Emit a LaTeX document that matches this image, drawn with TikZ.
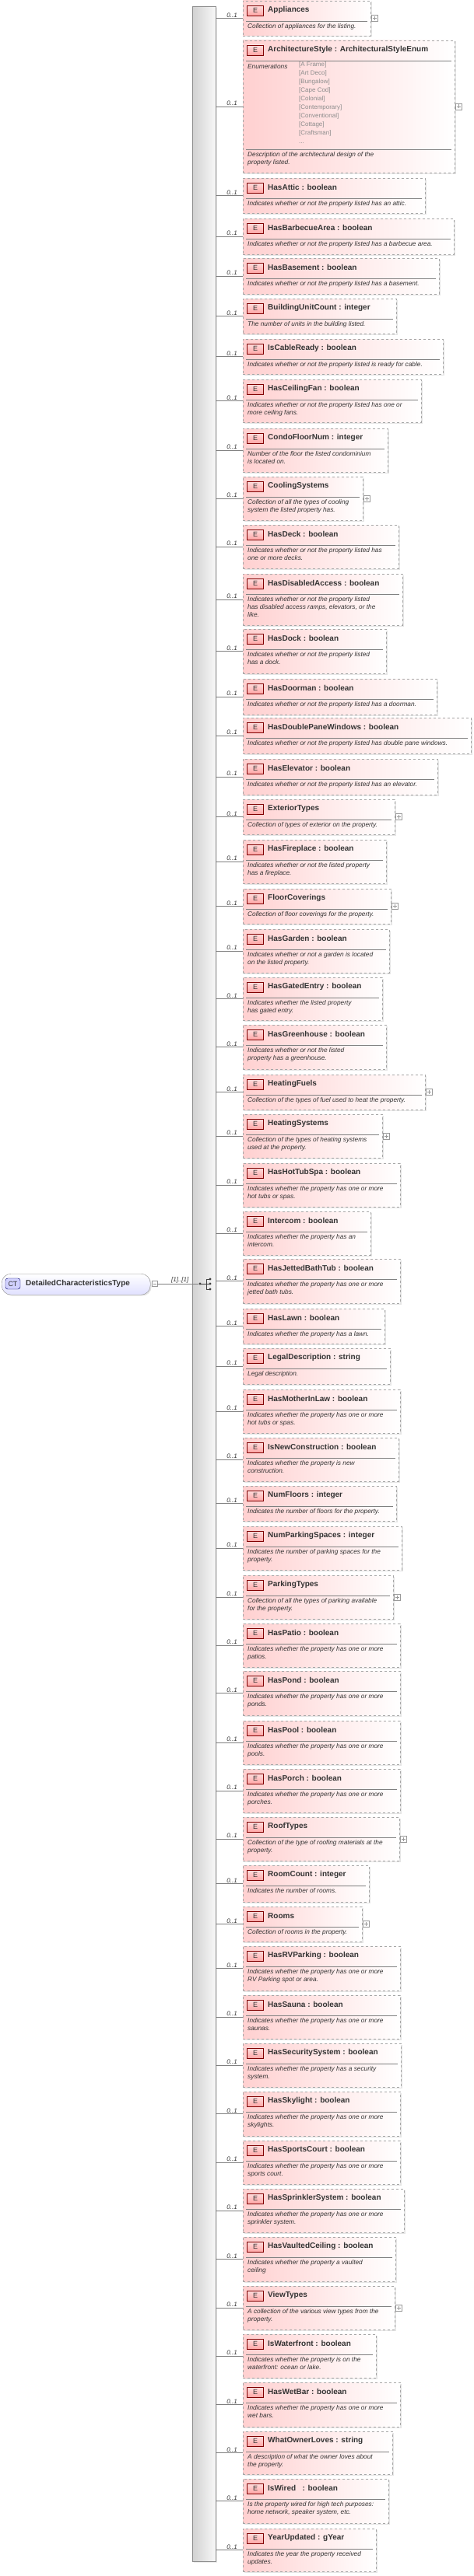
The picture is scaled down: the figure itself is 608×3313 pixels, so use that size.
\documentclass[tikz,border=0pt]{standalone}
\usepackage{fontspec}
\setmainfont{Liberation Sans}
\usetikzlibrary{shadows,calc}
\definecolor{epink}{RGB}{255,208,208}
\definecolor{txt}{RGB}{51,51,51}
\tikzset{
 ebox/.style={draw=black!35, dashed, line width=0.8pt, left color=epink, right color=white, anchor=north west, inner sep=0pt, outer sep=0pt,
   drop shadow={shadow xshift=1.5pt, shadow yshift=-1.5pt, fill=black!20}},
 badge/.style={draw=red!50!black, line width=0.5pt, top color=epink!70, bottom color=red!35, minimum width=21pt, minimum height=13pt, inner sep=0pt, font=\fontsize{9}{9}\selectfont, text=txt},
 etitle/.style={anchor=west, inner sep=0pt, font=\fontsize{10}{12}\selectfont\bfseries, text=txt},
 edesc/.style={anchor=north west, inner sep=0pt, align=left, font=\fontsize{8.3}{10}\selectfont\itshape, text=txt},
 sep/.style={draw=black!50, line width=0.6pt},
 conn/.style={draw=black!50, line width=0.6pt},
 mult/.style={pos=0.6, above=0pt, inner sep=1pt, font=\fontsize{8}{8}\selectfont\itshape, text=txt},
 plusbox/.style={draw=black!40, fill=white, minimum size=8pt, inner sep=0pt, line width=0.5pt},
}
\newcommand\elem[6]{%
 \node[ebox, minimum width={(#4-312)*1pt}, minimum height={(#3-#2)*1pt}] (#1) at (312,-#2) {};
 \draw[conn] (spine.east |- #1.west) -- (#1.west) node[mult]{0..1};
 \node[badge] (#1-b) at ([xshift=16pt,yshift=-12.5pt]#1.north west) {E};
 \node[etitle] (#1-t) at ([xshift=32pt,yshift=-12pt]#1.north west) {#5};
 \draw[sep] ([xshift=4pt,yshift=-26pt]#1.north west) -- ([xshift=-4pt,yshift=-26pt]#1.north east);
 \node[edesc] (#1-d) at ([xshift=6pt,yshift=-29pt]#1.north west) {#6};
}
\newcommand\plusof[1]{%
 \node[plusbox] (#1-p) at ([xshift=5pt]#1.east) {};
 \draw[black!40, line width=0.5pt] ([xshift=-2.5pt]#1-p.center) -- ([xshift=2.5pt]#1-p.center) ([yshift=-2.5pt]#1-p.center) -- ([yshift=2.5pt]#1-p.center);
}
\begin{document}
\begin{tikzpicture}[x=1pt,y=1pt]
\useasboundingbox (0,0) rectangle (608,-3313);
\node[draw=black!45, left color=black!18, right color=black!3, minimum width=30pt, minimum height=3286pt, inner sep=0pt, anchor=north west,
  drop shadow={shadow xshift=1.5pt, shadow yshift=-1.5pt, fill=black!15}] (spine) at (247,-8) {};
% CT node
\node[draw=black!45, rounded corners=12pt, top color=white, bottom color=blue!12, minimum width=191pt, minimum height=27pt, inner sep=0pt, anchor=north west,
  drop shadow={shadow xshift=1.5pt, shadow yshift=-1.5pt, fill=black!20}] (ct) at (2,-1638) {};
\node[draw=blue!40!black, rounded corners=3pt, fill=blue!18, minimum width=19pt, minimum height=14pt, inner sep=0pt, font=\fontsize{9}{9}\selectfont, text=txt] (ctb) at (16.5,-1651) {CT};
\node[etitle] (ctt) at (33,-1651) {DetailedCharacteristicsType};
\node[plusbox, minimum size=7pt] (ctm) at (198.5,-1651) {};
\draw[black!40, line width=0.5pt] ([xshift=-2pt]ctm.center) -- ([xshift=2pt]ctm.center);
\coordinate (seqin) at (255,-1651);
\draw[conn] (ctm.east) -- (seqin) node[pos=0.55, above=0pt, inner sep=1pt, font=\fontsize{8}{8}\selectfont\itshape, text=txt]{[1]..[1]};
% sequence symbol
\fill[black!75] (257,-1651) circle (1.6pt);
\draw[black!75, line width=0.8pt] (257,-1651) -- (265,-1651) (265,-1645) -- (265,-1658) (265,-1645) -- (270,-1645) (265,-1651) -- (270,-1651) (265,-1658) -- (270,-1658);
\fill[black!75] (270,-1645) circle (1.6pt) (270,-1651) circle (1.6pt) (270,-1658) circle (1.6pt);

\elem{appl}{1}{46}{476}{Appliances}{Collection of appliances for the listing.}\plusof{appl}
\elem{arch}{52}{222}{584}{ArchitectureStyle : ArchitecturalStyleEnum}{}\plusof{arch}
\node[edesc, anchor=west] (enl) at (318,-86) {Enumerations};
\node[anchor=north west, inner sep=0pt, align=left, font=\fontsize{8}{10.9}\selectfont, text=black!45] (env) at (384,-80) {{[A Frame]}\\{[Art Deco]}\\{[Bungalow]}\\{[Cape Cod]}\\{[Colonial]}\\{[Contemporary]}\\{[Conventional]}\\{[Cottage]}\\{[Craftsman]}\\{...}};
\draw[sep] (316,-192) -- (580,-192);
\node[edesc] (archd) at (318,-195) {Description of the architectural design of the\\property listed.};
\elem{attic}{229}{274}{546}{HasAttic : boolean}{Indicates whether or not the property listed has an attic.}
\elem{bbq}{281}{327}{583}{HasBarbecueArea : boolean}{Indicates whether or not the property listed has a barbecue area.}
\elem{base}{332}{378}{564}{HasBasement : boolean}{Indicates whether or not the property listed has a basement.}
\elem{buc}{384}{429}{509}{BuildingUnitCount : integer}{The number of units in the building listed.}
\elem{cable}{436}{481}{569}{IsCableReady : boolean}{Indicates whether or not the property listed is ready for cable.}
\elem{fan}{488}{543}{541}{HasCeilingFan : boolean}{Indicates whether or not the property listed has one or\\more ceiling fans.}
\elem{condo}{551}{607}{498}{CondoFloorNum : integer}{Number of the floor the listed condominium\\is located on.}
\elem{cool}{613}{669}{466}{CoolingSystems}{Collection of all the types of cooling\\system the listed property has.}\plusof{cool}
\elem{deck}{675}{731}{512}{HasDeck : boolean}{Indicates whether or not the property listed has\\one or more decks.}
\elem{dis}{738}{804}{517}{HasDisabledAccess : boolean}{Indicates whether or not the property listed\\has disabled access ramps, elevators, or the\\like.}
\elem{dock}{809}{866}{496}{HasDock : boolean}{Indicates whether or not the property listed\\has a dock.}
\elem{door}{873}{919}{561}{HasDoorman : boolean}{Indicates whether or not the property listed has a doorman.}
\elem{dpw}{923}{969}{605}{HasDoublePaneWindows : boolean}{Indicates whether or not the property listed has double pane windows.}
\elem{elev}{976}{1022}{562}{HasElevator : boolean}{Indicates whether or not the property listed has an elevator.}
\elem{ext}{1028}{1073}{507}{ExteriorTypes}{Collection of types of exterior on the property.}\plusof{ext}
\elem{fire}{1080}{1136}{496}{HasFireplace : boolean}{Indicates whether or not the listed property\\has a fireplace.}
\elem{floor}{1143}{1188}{502}{FloorCoverings}{Collection of floor coverings for the property.}\plusof{floor}
\elem{garden}{1195}{1251}{500}{HasGarden : boolean}{Indicates whether or not a garden is located\\on the listed property.}
\elem{gated}{1257}{1312}{491}{HasGatedEntry : boolean}{Indicates whether the listed property\\has gated entry.}
\elem{green}{1318}{1375}{496}{HasGreenhouse : boolean}{Indicates whether or not the listed\\property has a greenhouse.}
\elem{hfuel}{1382}{1427}{546}{HeatingFuels}{Collection of the types of fuel used to heat the property.}\plusof{hfuel}
\elem{hsys}{1433}{1489}{491}{HeatingSystems}{Collection of the types of heating systems\\used at the property.}\plusof{hsys}
\elem{hottub}{1496}{1552}{514}{HasHotTubSpa : boolean}{Indicates whether the property has one or more\\hot tubs or spas.}
\elem{inter}{1558}{1614}{476}{Intercom : boolean}{Indicates whether the property has an\\intercom.}
\elem{jet}{1619}{1676}{514}{HasJettedBathTub : boolean}{Indicates whether the property has one or more\\jetted bath tubs.}
\elem{lawn}{1683}{1728}{494}{HasLawn : boolean}{Indicates whether the property has a lawn.}
\elem{legal}{1734}{1780}{501}{LegalDescription : string}{Legal description.}
\elem{mil}{1787}{1843}{514}{HasMotherInLaw : boolean}{Indicates whether the property has one or more\\hot tubs or spas.}
\elem{newc}{1849}{1905}{512}{IsNewConstruction : boolean}{Indicates whether the property is new\\construction.}
\elem{nfl}{1911}{1956}{509}{NumFloors : integer}{Indicates the number of floors for the property.}
\elem{nps}{1963}{2019}{516}{NumParkingSpaces : integer}{Indicates the number of parking spaces for the\\property.}
\elem{ptypes}{2026}{2082}{505}{ParkingTypes}{Collection of all the types of parking available\\for the property.}\plusof{ptypes}
\elem{patio}{2088}{2144}{514}{HasPatio : boolean}{Indicates whether the property has one or more\\patios.}
\elem{pond}{2149}{2206}{514}{HasPond : boolean}{Indicates whether the property has one or more\\ponds.}
\elem{pool}{2213}{2269}{514}{HasPool : boolean}{Indicates whether the property has one or more\\pools.}
\elem{porch}{2275}{2331}{514}{HasPorch : boolean}{Indicates whether the property has one or more\\porches.}
\elem{roof}{2337}{2393}{513}{RoofTypes}{Collection of the type of roofing materials at the\\property.}\plusof{roof}
\elem{rcount}{2399}{2446}{474}{RoomCount : integer}{Indicates the number of rooms.}
\elem{rooms}{2452}{2497}{465}{Rooms}{Collection of rooms in the property.}\plusof{rooms}
\elem{rv}{2503}{2560}{514}{HasRVParking : boolean}{Indicates whether the property has one or more\\RV Parking spot or area.}
\elem{sauna}{2566}{2622}{514}{HasSauna : boolean}{Indicates whether the property has one or more\\saunas.}
\elem{sec}{2628}{2684}{515}{HasSecuritySystem : boolean}{Indicates whether the property has a security\\system.}
\elem{sky}{2690}{2747}{514}{HasSkylight : boolean}{Indicates whether the property has one or more\\skylights.}
\elem{sport}{2753}{2809}{514}{HasSportsCourt : boolean}{Indicates whether the property has one or more\\sports court.}
\elem{sprink}{2815}{2871}{519}{HasSprinklerSystem : boolean}{Indicates whether the property has one or more\\sprinkler system.}
\elem{vault}{2877}{2934}{508}{HasVaultedCeiling : boolean}{Indicates whether the property a vaulted\\ceiling}
\elem{view}{2940}{2996}{507}{ViewTypes}{A collection of the various view types from the\\property.}\plusof{view}
\elem{water}{3002}{3058}{483}{IsWaterfront : boolean}{Indicates whether the property is on the\\waterfront: ocean or lake.}
\elem{wet}{3064}{3121}{514}{HasWetBar : boolean}{Indicates whether the property has one or more\\wet bars.}
\elem{owner}{3127}{3182}{504}{WhatOwnerLoves : string}{A description of what the owner loves about\\the property.}
\elem{wired}{3188}{3245}{499}{IsWired\ \ \ : boolean}{Is the property wired for high tech purposes:\\home network, speaker system, etc.}
\elem{year}{3252}{3307}{483}{YearUpdated : gYear}{Indicates the year the property received\\updates.}
\end{tikzpicture}
\end{document}
